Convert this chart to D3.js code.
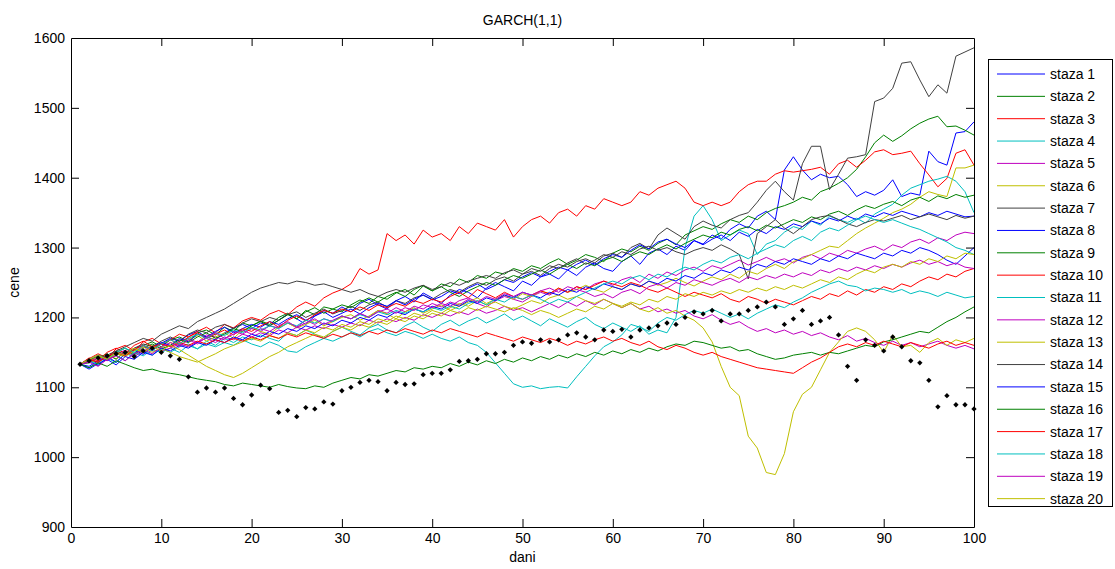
<!DOCTYPE html>
<html>
<head>
<meta charset="utf-8">
<script src="https://cdn.jsdelivr.net/npm/d3@7"></script>
<style>
  html, body { margin: 0; padding: 0; background: #fff; }
  svg { display: block; font-family: "Liberation Sans", Arial, sans-serif; }
</style>
</head>
<body>
<svg id="chart" width="1115" height="569"></svg>
<script>
// Simulated price paths (GARCH(1,1)), one value per day 1..100
const staza1 = [1133,1138,1131,1142,1150,1146,1155,1160,1152,1163,1170,1166,1175,1180,1172,1168,1178,1185,1190,1184,1192,1188,1196,1205,1198,1190,1202,1210,1206,1215,1208,1220,1226,1218,1212,1224,1230,1222,1235,1228,1220,1232,1240,1236,1228,1242,1250,1244,1238,1252,1246,1258,1262,1255,1268,1260,1272,1278,1270,1266,1280,1288,1276,1292,1298,1290,1302,1296,1310,1305,1318,1312,1326,1334,1328,1345,1352,1340,1411,1430,1411,1397,1405,1400,1402,1390,1373,1380,1375,1382,1397,1373,1378,1375,1438,1423,1418,1464,1466,1480];
const staza2 = [1133,1140,1145,1138,1150,1156,1148,1160,1165,1158,1168,1172,1166,1178,1182,1175,1186,1180,1192,1188,1195,1190,1200,1206,1198,1210,1204,1215,1212,1208,1218,1225,1220,1230,1226,1235,1240,1232,1245,1238,1248,1244,1255,1250,1260,1256,1265,1262,1270,1266,1274,1270,1278,1284,1276,1282,1290,1286,1280,1292,1298,1294,1302,1296,1306,1312,1304,1318,1324,1330,1326,1334,1340,1336,1345,1340,1350,1356,1360,1365,1372,1368,1380,1385,1392,1400,1412,1430,1450,1461,1452,1460,1470,1478,1484,1488,1473,1474,1468,1461];
const staza3 = [1133,1141,1148,1142,1155,1160,1152,1165,1170,1162,1168,1176,1172,1180,1186,1178,1190,1185,1195,1200,1196,1205,1210,1204,1215,1222,1216,1228,1235,1240,1248,1270,1262,1268,1320,1310,1318,1305,1325,1315,1320,1310,1330,1320,1335,1330,1325,1340,1315,1330,1340,1345,1335,1350,1355,1345,1360,1355,1370,1365,1360,1365,1380,1375,1385,1390,1395,1385,1365,1360,1365,1360,1365,1380,1390,1395,1395,1405,1410,1408,1410,1412,1415,1405,1420,1425,1415,1425,1437,1440,1433,1435,1438,1420,1404,1387,1399,1435,1440,1418];
const staza4 = [1133,1128,1136,1142,1135,1148,1144,1152,1146,1155,1150,1158,1162,1155,1166,1160,1170,1164,1172,1168,1175,1170,1166,1178,1174,1182,1176,1170,1180,1186,1180,1175,1185,1190,1182,1178,1188,1194,1186,1180,1190,1196,1188,1195,1200,1192,1198,1205,1196,1202,1195,1188,1198,1192,1186,1194,1200,1190,1184,1192,1186,1180,1188,1176,1182,1178,1200,1300,1345,1360,1340,1310,1318,1325,1320,1290,1305,1310,1322,1330,1326,1338,1332,1345,1340,1336,1342,1335,1348,1355,1362,1375,1385,1390,1395,1398,1402,1395,1380,1350];
const staza5 = [1133,1137,1144,1139,1148,1153,1147,1158,1154,1162,1158,1166,1170,1164,1175,1172,1168,1180,1176,1184,1180,1188,1185,1192,1186,1196,1190,1198,1194,1202,1198,1205,1200,1210,1206,1214,1208,1216,1212,1220,1215,1222,1218,1226,1220,1215,1224,1230,1226,1222,1230,1236,1232,1240,1236,1244,1240,1248,1252,1246,1254,1258,1250,1262,1256,1265,1260,1268,1272,1266,1274,1270,1276,1282,1275,1280,1286,1280,1284,1278,1286,1290,1284,1292,1288,1296,1292,1298,1302,1296,1304,1300,1308,1312,1306,1314,1310,1318,1322,1320];
const staza6 = [1133,1139,1135,1145,1141,1150,1156,1149,1160,1156,1164,1160,1168,1174,1166,1172,1178,1170,1182,1186,1180,1176,1186,1192,1185,1190,1196,1188,1194,1200,1204,1196,1202,1210,1205,1198,1208,1214,1206,1212,1218,1210,1216,1222,1228,1220,1226,1232,1226,1234,1230,1238,1234,1242,1236,1240,1246,1240,1236,1244,1240,1248,1244,1252,1246,1250,1256,1250,1245,1252,1258,1254,1262,1256,1266,1262,1270,1276,1270,1280,1284,1290,1296,1302,1300,1310,1320,1328,1335,1342,1350,1355,1362,1372,1380,1376,1373,1414,1414,1418];
const staza7 = [1133,1140,1136,1146,1152,1147,1156,1162,1158,1166,1172,1166,1176,1182,1178,1186,1190,1184,1192,1198,1194,1200,1196,1204,1208,1200,1206,1212,1205,1210,1216,1210,1218,1222,1215,1224,1220,1228,1232,1226,1234,1240,1236,1244,1250,1246,1254,1258,1252,1262,1266,1260,1270,1276,1272,1280,1284,1278,1288,1292,1286,1300,1306,1298,1318,1328,1320,1312,1330,1338,1332,1328,1340,1346,1350,1365,1382,1395,1380,1368,1420,1445,1445,1383,1405,1428,1430,1433,1509,1514,1528,1564,1566,1540,1516,1533,1521,1574,1580,1586];
const staza8 = [1133,1130,1138,1144,1136,1148,1154,1147,1158,1164,1160,1170,1165,1176,1172,1180,1186,1178,1184,1190,1186,1194,1190,1198,1204,1196,1202,1208,1200,1206,1212,1205,1214,1220,1216,1224,1218,1226,1232,1225,1230,1238,1234,1242,1248,1240,1246,1254,1250,1258,1264,1258,1266,1272,1268,1276,1282,1275,1284,1290,1286,1296,1304,1298,1308,1312,1305,1300,1310,1304,1312,1318,1310,1322,1316,1326,1320,1330,1326,1334,1330,1338,1334,1342,1338,1345,1340,1348,1344,1350,1346,1352,1348,1344,1350,1346,1352,1348,1344,1345];
const staza9 = [1133,1135,1142,1148,1140,1152,1146,1156,1162,1155,1160,1168,1164,1172,1178,1170,1176,1184,1180,1188,1194,1188,1196,1204,1198,1208,1214,1206,1212,1218,1214,1222,1228,1222,1230,1236,1230,1240,1246,1238,1244,1236,1230,1238,1244,1250,1246,1254,1260,1256,1262,1268,1262,1270,1276,1270,1278,1274,1282,1286,1280,1288,1294,1290,1298,1304,1298,1306,1312,1318,1314,1322,1318,1326,1330,1324,1332,1328,1334,1340,1336,1344,1340,1348,1352,1346,1354,1360,1356,1362,1366,1360,1368,1372,1366,1374,1370,1376,1372,1375];
const staza10 = [1133,1142,1138,1150,1156,1148,1160,1166,1158,1162,1168,1162,1172,1178,1170,1176,1182,1175,1184,1180,1188,1194,1186,1196,1202,1195,1204,1210,1206,1212,1208,1215,1210,1218,1214,1220,1216,1224,1220,1226,1222,1230,1236,1228,1240,1234,1228,1236,1230,1226,1232,1238,1234,1242,1236,1244,1240,1246,1252,1248,1244,1250,1246,1240,1236,1242,1236,1230,1236,1232,1228,1234,1226,1222,1230,1226,1220,1226,1222,1218,1224,1230,1226,1234,1230,1238,1232,1240,1236,1244,1240,1248,1244,1252,1258,1254,1262,1258,1266,1270];
const staza11 = [1133,1138,1132,1142,1146,1138,1150,1145,1154,1150,1156,1150,1160,1155,1162,1158,1164,1160,1168,1162,1158,1165,1160,1152,1150,1158,1164,1170,1166,1172,1178,1172,1180,1184,1178,1174,1180,1176,1170,1176,1170,1166,1172,1164,1160,1150,1135,1120,1105,1100,1102,1098,1100,1101,1099,1115,1130,1145,1158,1165,1175,1190,1186,1180,1192,1200,1196,1204,1210,1206,1212,1206,1200,1205,1198,1206,1212,1218,1214,1222,1228,1236,1242,1248,1252,1246,1244,1238,1242,1240,1236,1240,1234,1238,1235,1230,1236,1232,1228,1230];
const staza12 = [1133,1136,1142,1138,1146,1150,1144,1152,1158,1152,1156,1162,1158,1165,1170,1164,1172,1168,1176,1172,1178,1174,1182,1178,1186,1182,1188,1184,1190,1186,1192,1188,1196,1192,1198,1194,1200,1196,1204,1200,1206,1202,1208,1204,1212,1206,1210,1216,1210,1214,1208,1214,1220,1214,1222,1216,1224,1218,1226,1220,1214,1220,1212,1216,1208,1212,1206,1210,1202,1198,1204,1196,1190,1194,1186,1180,1184,1178,1182,1176,1180,1174,1178,1172,1168,1174,1166,1170,1164,1160,1166,1160,1164,1158,1162,1166,1160,1156,1160,1155];
const staza13 = [1133,1138,1144,1140,1148,1144,1152,1158,1150,1156,1150,1144,1140,1136,1142,1148,1155,1160,1165,1170,1166,1174,1170,1178,1174,1182,1178,1186,1182,1190,1186,1194,1190,1198,1194,1202,1198,1206,1202,1210,1206,1214,1220,1216,1224,1218,1222,1216,1212,1218,1224,1220,1228,1232,1226,1230,1224,1220,1226,1220,1214,1220,1212,1208,1214,1206,1210,1202,1196,1185,1165,1130,1100,1088,1030,1013,978,975,1005,1065,1090,1100,1125,1150,1165,1180,1185,1180,1168,1150,1175,1158,1160,1150,1164,1170,1160,1168,1164,1170];
const staza14 = [1133,1138,1146,1142,1152,1158,1164,1170,1166,1176,1182,1188,1184,1194,1200,1206,1212,1220,1228,1236,1242,1246,1250,1248,1252,1250,1246,1248,1244,1240,1236,1240,1234,1230,1236,1240,1236,1242,1246,1240,1244,1250,1246,1252,1256,1260,1256,1264,1268,1262,1270,1266,1274,1270,1278,1284,1276,1282,1290,1286,1294,1290,1298,1302,1296,1300,1294,1290,1296,1300,1296,1304,1298,1290,1255,1320,1330,1340,1328,1320,1330,1340,1344,1346,1340,1334,1330,1336,1340,1338,1342,1346,1340,1344,1348,1344,1340,1346,1342,1345];
const staza15 = [1133,1126,1134,1140,1132,1144,1140,1150,1146,1156,1152,1160,1156,1164,1160,1168,1164,1172,1168,1176,1172,1180,1176,1184,1180,1188,1184,1192,1188,1196,1192,1200,1196,1204,1200,1208,1204,1212,1208,1216,1212,1220,1216,1224,1220,1228,1224,1232,1228,1236,1232,1228,1236,1232,1240,1236,1244,1240,1248,1244,1240,1248,1244,1252,1248,1256,1252,1260,1256,1264,1260,1268,1264,1272,1268,1276,1272,1280,1276,1284,1280,1276,1284,1280,1288,1284,1292,1288,1284,1292,1288,1296,1292,1300,1296,1290,1282,1276,1288,1300];
const staza16 = [1133,1128,1135,1130,1138,1133,1128,1124,1126,1122,1120,1118,1115,1112,1110,1108,1104,1102,1106,1104,1102,1100,1104,1101,1099,1098,1102,1100,1106,1110,1114,1112,1118,1116,1120,1124,1122,1128,1126,1130,1128,1134,1130,1136,1132,1138,1134,1140,1136,1142,1138,1144,1140,1146,1142,1148,1144,1150,1146,1152,1148,1154,1150,1156,1152,1158,1162,1160,1166,1164,1160,1156,1158,1152,1154,1148,1144,1140,1142,1146,1148,1150,1146,1150,1148,1152,1156,1160,1158,1165,1168,1172,1176,1180,1178,1186,1194,1200,1208,1215];
const staza17 = [1133,1140,1136,1144,1150,1145,1154,1160,1155,1162,1158,1164,1160,1166,1162,1168,1164,1170,1166,1172,1168,1174,1170,1176,1172,1178,1174,1170,1176,1172,1178,1174,1180,1176,1182,1178,1184,1180,1176,1182,1178,1184,1180,1176,1172,1178,1174,1170,1166,1172,1168,1164,1170,1166,1160,1166,1162,1168,1172,1166,1170,1164,1160,1166,1158,1154,1160,1156,1150,1146,1150,1144,1140,1136,1132,1128,1126,1124,1122,1120,1128,1136,1142,1150,1158,1162,1158,1164,1160,1166,1162,1158,1164,1160,1156,1162,1166,1160,1164,1160];
const staza18 = [1133,1140,1146,1140,1150,1156,1150,1160,1154,1162,1168,1162,1170,1176,1170,1178,1174,1182,1178,1186,1182,1188,1184,1192,1188,1196,1192,1198,1194,1202,1198,1204,1200,1208,1204,1210,1206,1212,1208,1214,1210,1216,1212,1220,1224,1218,1226,1222,1230,1226,1232,1226,1220,1226,1222,1230,1236,1242,1248,1252,1248,1256,1260,1254,1262,1258,1266,1272,1268,1276,1282,1278,1286,1290,1284,1292,1298,1304,1300,1310,1316,1310,1322,1328,1324,1332,1340,1345,1340,1336,1340,1335,1330,1326,1320,1314,1308,1300,1296,1290];
const staza19 = [1133,1136,1130,1140,1145,1138,1148,1154,1148,1158,1164,1158,1168,1162,1172,1178,1170,1176,1182,1176,1184,1180,1188,1194,1186,1192,1198,1190,1196,1202,1198,1206,1200,1208,1212,1206,1214,1210,1218,1214,1220,1216,1224,1228,1222,1230,1226,1234,1230,1236,1232,1238,1242,1236,1244,1240,1236,1230,1234,1228,1236,1240,1234,1244,1248,1242,1250,1246,1254,1250,1246,1252,1256,1250,1258,1254,1260,1256,1262,1258,1264,1260,1268,1264,1270,1266,1272,1268,1274,1270,1276,1272,1278,1282,1276,1280,1274,1278,1272,1270];
const staza20 = [1133,1140,1146,1140,1150,1146,1156,1150,1158,1152,1160,1154,1146,1138,1130,1124,1118,1114,1120,1128,1136,1144,1150,1158,1164,1170,1176,1172,1180,1186,1182,1190,1186,1194,1190,1198,1194,1202,1198,1206,1202,1210,1206,1214,1210,1216,1212,1208,1214,1210,1204,1210,1206,1200,1206,1212,1208,1216,1212,1220,1216,1222,1218,1226,1222,1230,1226,1234,1230,1236,1232,1238,1234,1240,1236,1242,1238,1244,1240,1246,1242,1248,1254,1250,1258,1254,1262,1268,1264,1272,1276,1272,1280,1276,1284,1280,1288,1284,1292,1290];

// Observed prices (black diamonds), days 1..100
const observed = [1133,1138,1142,1145,1148,1150,1144,1152,1156,1150,1145,1140,1115,1093,1099,1093,1099,1084,1075,1089,1103,1098,1064,1067,1058,1071,1069,1079,1076,1095,1100,1107,1110,1108,1095,1107,1104,1105,1118,1120,1120,1125,1137,1138,1140,1148,1148,1150,1160,1165,1163,1168,1165,1168,1175,1178,1172,1168,1182,1180,1183,1172,1182,1185,1188,1192,1190,1200,1208,1205,1210,1195,1205,1205,1210,1215,1222,1215,1190,1198,1210,1190,1195,1200,1175,1130,1110,1168,1160,1152,1172,1158,1138,1135,1110,1072,1088,1075,1075,1069];

const seriesNames = d3.range(1, 21).map(i => "staza " + i);
const seriesValues = [staza1, staza2, staza3, staza4, staza5, staza6, staza7, staza8, staza9, staza10,
                      staza11, staza12, staza13, staza14, staza15, staza16, staza17, staza18, staza19, staza20];
const days = d3.range(1, 101);

const xTicks = [0, 10, 20, 30, 40, 50, 60, 70, 80, 90, 100];
const yTicks = [900, 1000, 1100, 1200, 1300, 1400, 1500, 1600];

// MATLAB-style colour order: b g r c m y k
const colorCycle = ["#0000ff", "#008000", "#ff0000", "#00bfbf", "#bf00bf", "#bfbf00", "#404040"];

const svg = d3.select("#chart");
const plot = { left: 71, right: 974, top: 38, bottom: 527 };

const x = d3.scaleLinear().domain([0, 100]).range([plot.left, plot.right]);
const y = d3.scaleLinear().domain([900, 1600]).range([plot.bottom, plot.top]);

svg.append("rect").attr("width", 1115).attr("height", 569).attr("fill", "#fff");

svg.append("clipPath").attr("id", "plotclip")
  .append("rect")
  .attr("x", plot.left).attr("y", plot.top)
  .attr("width", plot.right - plot.left).attr("height", plot.bottom - plot.top);

const line = d3.line().x((d, i) => x(days[i])).y(d => y(d));

const lines = svg.append("g").attr("clip-path", "url(#plotclip)");
seriesValues.forEach((vals, i) => {
  lines.append("path")
    .datum(vals)
    .attr("d", line)
    .attr("fill", "none")
    .attr("stroke", colorCycle[i % colorCycle.length])
    .attr("stroke-width", 1)
    .attr("stroke-linejoin", "round");
});

// observed prices as small square diamonds
const diamond = d3.symbol().type(d3.symbolDiamond2).size(18);
svg.append("g")
  .selectAll("path")
  .data(observed)
  .join("path")
  .attr("transform", (d, i) => `translate(${x(days[i])},${y(d)})`)
  .attr("d", diamond)
  .attr("fill", "#000");

// axes with inward ticks on all four sides
const tickLen = 8;
const axisFont = "14px";

const gBottom = svg.append("g")
  .attr("transform", `translate(0,${plot.bottom})`)
  .call(d3.axisBottom(x).tickValues(xTicks).tickFormat(d3.format("d"))
    .tickSizeInner(-tickLen).tickSizeOuter(0).tickPadding(6));
const gTop = svg.append("g")
  .attr("transform", `translate(0,${plot.top})`)
  .call(d3.axisTop(x).tickValues(xTicks).tickFormat("")
    .tickSizeInner(-tickLen).tickSizeOuter(0));
const gLeft = svg.append("g")
  .attr("transform", `translate(${plot.left},0)`)
  .call(d3.axisLeft(y).tickValues(yTicks).tickFormat(d3.format("d"))
    .tickSizeInner(-tickLen).tickSizeOuter(0).tickPadding(6));
const gRight = svg.append("g")
  .attr("transform", `translate(${plot.right},0)`)
  .call(d3.axisRight(y).tickValues(yTicks).tickFormat("")
    .tickSizeInner(-tickLen).tickSizeOuter(0));

[gBottom, gTop, gLeft, gRight].forEach(g => {
  g.select(".domain").attr("stroke", "#000").attr("stroke-width", 1);
  g.selectAll(".tick line").attr("stroke", "#000");
  g.selectAll(".tick text").attr("fill", "#000")
    .style("font-size", axisFont)
    .style("font-family", "'Liberation Sans', Arial, sans-serif");
});
// no tick marks on the frame corners
gBottom.selectAll(".tick").filter(d => d === 0 || d === 100).select("line").remove();
gTop.selectAll(".tick").filter(d => d === 0 || d === 100).select("line").remove();
gLeft.selectAll(".tick").filter(d => d === 900 || d === 1600).select("line").remove();
gRight.selectAll(".tick").filter(d => d === 900 || d === 1600).select("line").remove();

// title and axis labels
svg.append("text")
  .attr("x", (plot.left + plot.right) / 2).attr("y", 25)
  .attr("text-anchor", "middle")
  .style("font-size", "14px").attr("fill", "#000")
  .text("GARCH(1,1)");

svg.append("text")
  .attr("x", (plot.left + plot.right) / 2).attr("y", 562)
  .attr("text-anchor", "middle")
  .style("font-size", "14px").attr("fill", "#000")
  .text("dani");

svg.append("text")
  .attr("transform", `translate(19,${(plot.top + plot.bottom) / 2}) rotate(-90)`)
  .attr("text-anchor", "middle")
  .style("font-size", "14px").attr("fill", "#000")
  .text("cene");

// legend
const legend = { left: 988, top: 59, width: 125, height: 447, rowStart: 74, rowStep: 22.35 };
const lg = svg.append("g");
lg.append("rect")
  .attr("x", legend.left + 0.5).attr("y", legend.top + 0.5)
  .attr("width", legend.width - 1).attr("height", legend.height)
  .attr("fill", "#fff").attr("stroke", "#000").attr("stroke-width", 1);

const rows = lg.selectAll("g.row")
  .data(seriesNames)
  .join("g")
  .attr("class", "row")
  .attr("transform", (d, i) => `translate(0,${legend.rowStart + i * legend.rowStep})`);

rows.append("line")
  .attr("x1", 997).attr("x2", 1045)
  .attr("y1", 0).attr("y2", 0)
  .attr("stroke", (d, i) => colorCycle[i % colorCycle.length])
  .attr("stroke-width", 1);

rows.append("text")
  .attr("x", 1050).attr("y", 0).attr("dy", "0.35em")
  .style("font-size", "14px").attr("fill", "#000")
  .text(d => d);
</script>
</body>
</html>
